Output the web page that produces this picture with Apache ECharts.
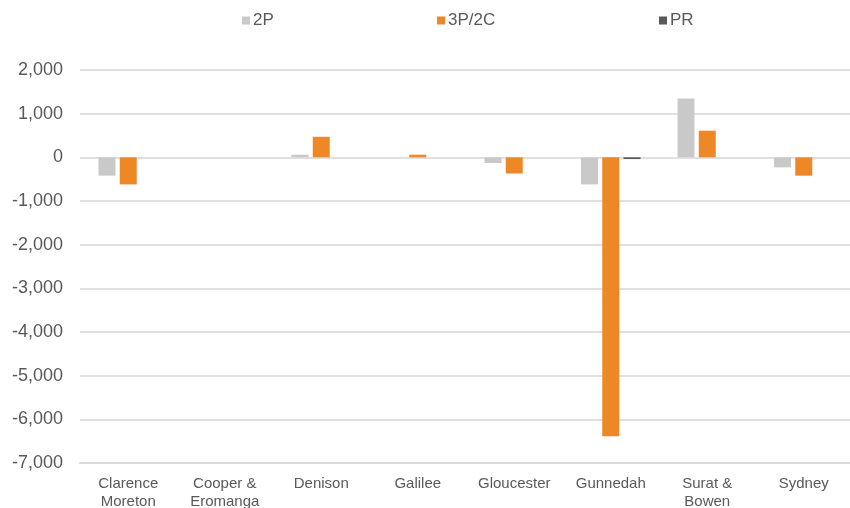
<!DOCTYPE html>
<html>
<head>
<meta charset="utf-8">
<script src="https://cdn.jsdelivr.net/npm/echarts@6/dist/echarts.min.js"></script>
<style>
  html, body { margin: 0; padding: 0; background: #ffffff; }
  #chart { width: 850px; height: 508px; }
</style>
</head>
<body>
<div id="chart"></div>
<script>
// Basins along the category axis
const categories = ['Clarence\nMoreton', 'Cooper &\nEromanga', 'Denison', 'Galilee', 'Gloucester', 'Gunnedah', 'Surat &\nBowen', 'Sydney'];
// Reserve changes per basin (PJ)
const values2P = [-420, 0, 60, 0, -130, -620, 1350, -230];
const values3P2C = [-620, 0, 470, 60, -370, -6390, 610, -420];
const valuesPR = [0, 0, 0, 0, 0, -40, 0, 0];
const yTicks = { min: -7000, max: 2000, interval: 1000 };

const seriesNames = ['2P', '3P/2C', 'PR'];
const seriesColors = ['#c9c9c9', '#ee8726', '#595959'];
const seriesData = [values2P, values3P2C, valuesPR];
const legendLeft = [242, 437, 659];

const textColor = '#595959';
const fontFamily = '"Liberation Sans", Arial, sans-serif';

const chart = echarts.init(document.getElementById('chart'), null, { renderer: 'canvas' });

chart.setOption({
  animation: false,
  backgroundColor: '#ffffff',
  legend: seriesNames.map((name, i) => ({
    data: [name],
    left: legendLeft[i],
    top: 12,
    padding: 0,
    icon: 'rect',
    itemWidth: 8,
    itemHeight: 8,
    itemGap: 0,
    itemStyle: { borderWidth: 0 },
    textStyle: { color: textColor, fontSize: 17, fontFamily: fontFamily, padding: [3, 0, 0, -2] }
  })),
  grid: { left: 80, top: 70, width: 772, bottom: 45, containLabel: false, outerBoundsMode: 'none' },
  xAxis: {
    type: 'category',
    data: categories,
    position: 'bottom',
    axisLine: { onZero: false, lineStyle: { color: '#d9d9d9', width: 2 } },
    axisTick: { show: false },
    axisLabel: {
      color: textColor,
      fontSize: 15,
      lineHeight: 18,
      margin: 12,
      fontFamily: fontFamily,
      interval: 0
    }
  },
  yAxis: {
    type: 'value',
    min: yTicks.min,
    max: yTicks.max,
    interval: yTicks.interval,
    axisLine: { show: false },
    axisTick: { show: false },
    splitLine: { lineStyle: { color: '#e0e0e0', width: 2 } },
    axisLabel: {
      color: textColor,
      fontSize: 18,
      margin: 17,
      fontFamily: fontFamily,
      formatter: v => v.toLocaleString('en-US')
    }
  },
  series: seriesNames.map((name, i) => ({
    name: name,
    type: 'bar',
    data: seriesData[i],
    barWidth: 17,
    barGap: '25%',
    itemStyle: { color: seriesColors[i], borderWidth: 0 }
  }))
});
</script>
</body>
</html>
